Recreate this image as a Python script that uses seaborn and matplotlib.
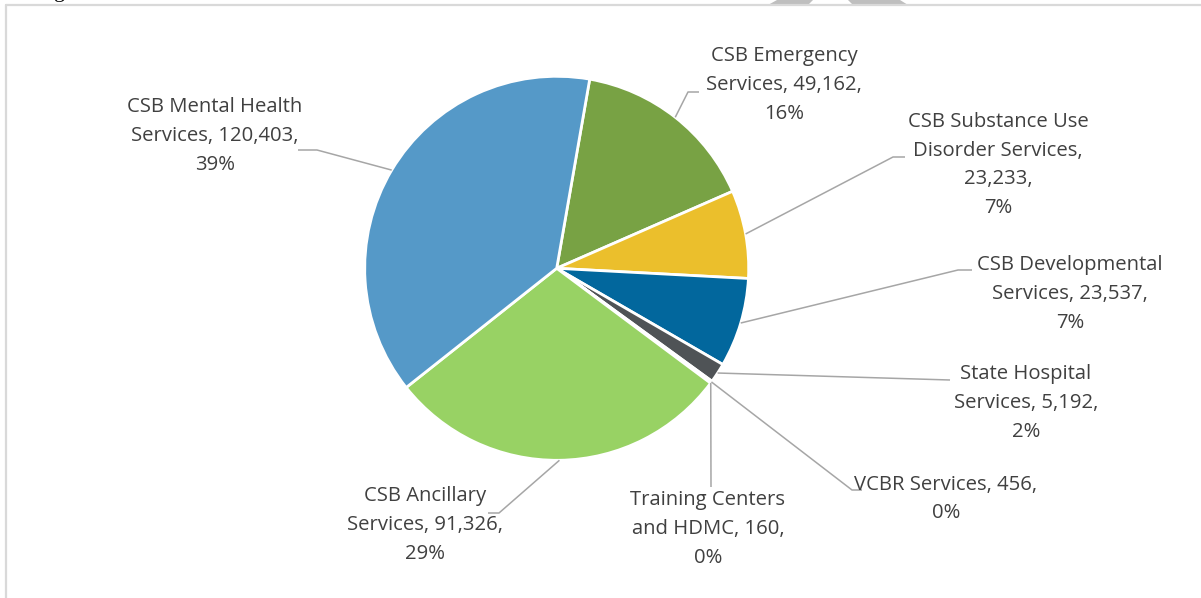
import numpy as np
import matplotlib
matplotlib.use("Agg")
import matplotlib.pyplot as plt
import seaborn as sns

# slices, clockwise from the top
services = ["CSB Emergency Services", "CSB Substance Use Disorder Services",
            "CSB Developmental Services", "State Hospital Services", "VCBR Services",
            "Training Centers and HDMC", "CSB Ancillary Services", "CSB Mental Health Services"]
amounts = [49162, 23233, 23537, 5192, 456, 160, 91326, 120403]
pct_labels = ["16%", "7%", "7%", "2%", "0%", "0%", "29%", "39%"]
slice_colors = ["#78A244", "#EBBF2C", "#02679D", "#4F5356", "#2F5597", "#9E480E", "#98D264", "#5599C8"]

# label text as it is wrapped in the chart
label_text = [
    "CSB Emergency\nServices, 49,162,\n16%",
    "CSB Substance Use\nDisorder Services,\n23,233,\n7%",
    "CSB Developmental\nServices, 23,537,\n7%",
    "State Hospital\nServices, 5,192,\n2%",
    "VCBR Services, 456,\n0%",
    "Training Centers\nand HDMC, 160,\n0%",
    "CSB Ancillary\nServices, 91,326,\n29%",
    "CSB Mental Health\nServices, 120,403,\n39%",
]

# label centres (pixels) and leader elbows
label_pos = [(784, 85), (998, 165), (1070, 294), (1026, 403), (946, 499), (708, 529), (425, 525), (215, 136)]
elbows = [
    [(688, 92), (699, 92)],
    [(893, 157), (905, 157)],
    [(958, 270), (972, 270)],
    [(950, 380)],
    [(852, 490), (862, 490)],
    [(711, 487)],
    [(499, 513), (488, 513)],
    [(317, 150), (298, 150)],
]

sns.set_theme(style="white")
plt.rcParams["font.family"] = ["Open Sans", "DejaVu Sans"]

W, H = 1201, 598
fig = plt.figure(figsize=(W / 100, H / 100), dpi=100)
ax = fig.add_axes([0, 0, 1, 1])

cx, cy, r = 556.7, 268.3, 192
wedges, _ = ax.pie(amounts, colors=slice_colors, startangle=-80.1, counterclock=True,
                   center=(cx, cy), radius=r,
                   wedgeprops=dict(edgecolor="white", linewidth=2.0))

ax.set_xlim(0, W)
ax.set_ylim(H, 0)
ax.set_aspect("auto")
ax.axis("off")

text_col = "#404040"
line_col = "#A6A6A6"
for w, txt, (lx, ly), elb in zip(wedges, label_text, label_pos, elbows):
    mid = np.deg2rad((w.theta1 + w.theta2) / 2)
    sx, sy = cx + r * np.cos(mid), cy + r * np.sin(mid)
    pts = [(sx, sy)] + elb
    ax.plot([p[0] for p in pts], [p[1] for p in pts], color=line_col, lw=1.1,
            solid_capstyle="butt", zorder=1)
    ax.text(lx, ly, txt, ha="center", va="center", multialignment="center",
            fontsize=14.6, color=text_col, linespacing=1.58)

# page frame and clipped bits around the chart
ax.plot([6, W], [5, 5], color="#D9D9D9", lw=1.6)
ax.plot([6, 6], [5, H], color="#D9D9D9", lw=1.6)
ax.fill([768, 777, 813, 808], [5, 0, 0, 5], color="#BFBFBF", lw=0)
ax.fill([853, 848, 900, 908], [5, 0, 0, 5], color="#BFBFBF", lw=0)
ax.text(60, 2, "g", fontsize=16, family="Liberation Serif", color="black", ha="center", va="bottom")

fig.savefig("out.png", dpi=100)
